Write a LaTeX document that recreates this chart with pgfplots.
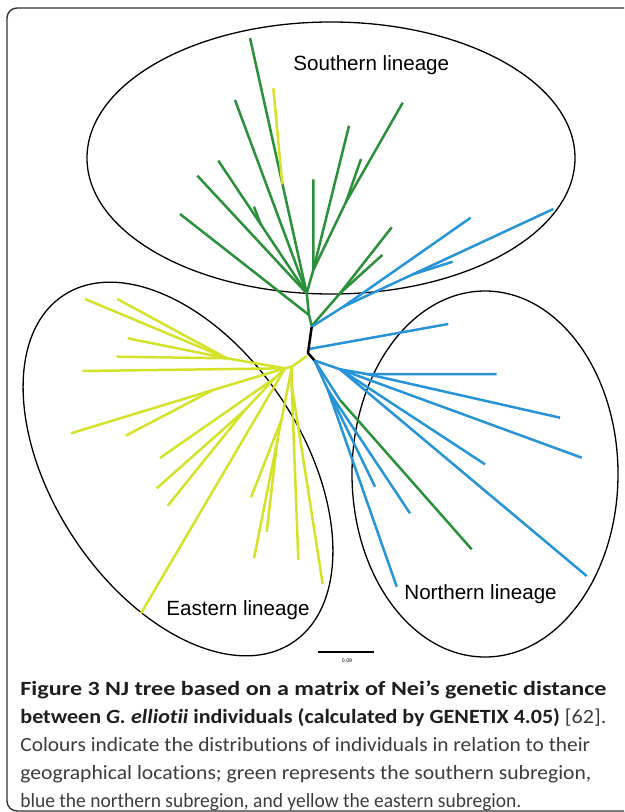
\documentclass[border=0pt]{standalone}
\usepackage{graphicx}
\usepackage{pgfplots}
\pgfplotsset{compat=1.18}
\usepackage{fontspec}
\setmainfont{Carlito}[Ligatures={NoCommon}]
\newfontfamily\arial{Liberation Sans}
\definecolor{sgreen}{RGB}{42,145,58}
\definecolor{nblue}{RGB}{38,148,214}
\definecolor{eyellow}{RGB}{212,226,42}
\definecolor{capbold}{RGB}{30,30,30}
\definecolor{captxt}{RGB}{60,60,60}
\definecolor{framec}{RGB}{50,50,50}
\newcommand{\fitline}[2]{\resizebox{#1}{\height}{#2}}
\begin{document}
\begin{tikzpicture}
\begin{axis}[
  x=0.5pt, y=0.5pt, xmin=0, xmax=624, ymin=0, ymax=812, y dir=reverse,
  hide axis, clip=false, scale only axis,
  every axis plot/.append style={no markers, line width=1.25pt, line join=round},
]
\addplot[draw=none] coordinates {(0,0) (624,812)};
% frame
\draw[line width=0.7pt, framec, rounded corners=5pt] (axis cs:624,8) -- (axis cs:7,8) -- (axis cs:7,811) -- (axis cs:624,811);
% ellipses
\draw[line width=0.65pt] (axis cs:331,158) ellipse [x radius=122pt, y radius=68pt];
\draw[line width=0.65pt, rotate around={-56.6:(axis cs:178,469)}] (axis cs:178,469) ellipse [x radius=104pt, y radius=62.5pt];
\draw[line width=0.65pt] (axis cs:485,474) ellipse [x radius=66.5pt, y radius=91.5pt];

% southern (green)
\addplot[sgreen] coordinates {(311.7,326) (309,315) (306.7,293.3) (250,38)};
\addplot[sgreen] coordinates {(309,315) (180,214)};
\addplot[sgreen] coordinates {(306.7,293.3) (235,100)};
\addplot[sgreen] coordinates {(306.7,293.3) (218.3,160.7)};
\addplot[sgreen] coordinates {(261,225) (254,206.7)};
\addplot[sgreen] coordinates {(306.7,293.3) (197.3,175.7)};
\addplot[sgreen] coordinates {(306.7,293.3) (313.3,270) (313.3,179.3)};
\addplot[sgreen] coordinates {(313.3,270) (349,125.7)};
\addplot[sgreen] coordinates {(313.3,270) (346,202) (402.7,102.7)};
\addplot[sgreen] coordinates {(346,202) (361,159)};
\addplot[sgreen] coordinates {(311.7,326) (340,293.3) (391.7,227.3)};
\addplot[sgreen] coordinates {(340,293.3) (382.3,255)};
\addplot[eyellow] coordinates {(282.3,184.3) (273.3,88.3)};

% blue upper
\addplot[nblue] coordinates {(311.7,326.7) (343.3,306.7) (470.7,217.7)};
\addplot[nblue] coordinates {(343.3,306.7) (553.3,209)};
\addplot[nblue] coordinates {(413,274.3) (452.7,261.7)};
\addplot[nblue] coordinates {(309,349) (448.3,324)};

% black internal
\addplot[black] coordinates {(311.7,326.7) (308,353) (314.5,360.5)};

% eastern (yellow)
\addplot[eyellow] coordinates {(307,356) (291.7,366.7) (285,368.3)};
\addplot[eyellow] coordinates {(285,368.3) (226.7,358.3) (85,299)};
\addplot[eyellow] coordinates {(226.7,358.3) (117.3,299)};
\addplot[eyellow] coordinates {(226.7,358.3) (127.7,338.3)};
\addplot[eyellow] coordinates {(226.7,358.3) (116.7,356.7)};
\addplot[eyellow] coordinates {(285,368.3) (82.3,371)};
\addplot[eyellow] coordinates {(285,368.3) (213,390) (71,433.3)};
\addplot[eyellow] coordinates {(213,390) (125.7,435.7)};
\addplot[eyellow] coordinates {(285,368.3) (275,378) (160,458)};
\addplot[eyellow] coordinates {(275,378) (245,410) (156.7,488.3)};
\addplot[eyellow] coordinates {(245,410) (167.7,505.7)};
\addplot[eyellow] coordinates {(285,368.3) (141,613.3)};
\addplot[eyellow] coordinates {(291.7,368) (254,558.3)};
\addplot[eyellow] coordinates {(281.4,420) (251,497.3)};
\addplot[eyellow] coordinates {(277.4,440) (266.7,531.7)};
\addplot[eyellow] coordinates {(291.7,368) (291.7,385) (298.3,560)};
\addplot[eyellow] coordinates {(291.7,385) (322.7,584)};

% northern (blue)
\addplot[nblue] coordinates {(314.5,360.5) (340,369.3) (366.7,374) (496.7,374)};
\addplot[nblue] coordinates {(366.7,374) (560,417.7)};
\addplot[nblue] coordinates {(340,369.3) (581.7,457.7)};
\addplot[nblue] coordinates {(340,369.3) (485,464.3)};
\addplot[nblue] coordinates {(340,369.3) (586.7,576)};
\addplot[nblue] coordinates {(314.5,360.5) (328,390) (396.7,586.7)};
\addplot[nblue] coordinates {(328,390) (375,486.7)};
\addplot[nblue] coordinates {(328,390) (410,513.3)};
\addplot[nblue] coordinates {(314.5,360.5) (340,400)};
\addplot[sgreen] coordinates {(340,400) (471.7,549.3)};

% scale bar
\addplot[black, line width=1pt] coordinates {(318,652) (374,652)};
\node[font=\arial\fontsize{2.6}{3}\selectfont] at (axis cs:347,661) {0.09};

% lineage labels
\node[anchor=base west, inner sep=0pt, font=\arial\fontsize{10.3}{12}\selectfont] at (axis cs:293,71) {Southern lineage};
\node[anchor=base west, inner sep=0pt, font=\arial\fontsize{10.3}{12}\selectfont] at (axis cs:166,615) {Eastern lineage};
\node[anchor=base west, inner sep=0pt, font=\arial\fontsize{10.3}{12}\selectfont] at (axis cs:404,599) {Northern lineage};

% caption
\node[anchor=base west, inner sep=0pt, font=\fontsize{10.1}{12}\selectfont\bfseries, text=capbold] at (axis cs:20,695) {\fitline{293pt}{Figure 3 NJ tree based on a matrix of Nei’s genetic distance}};
\node[anchor=base west, inner sep=0pt, font=\fontsize{10.1}{12}\selectfont\bfseries, text=capbold] at (axis cs:20,723) {\fitline{293pt}{between \textit{G. elliotii} individuals (calculated by GENETIX 4.05) {\mdseries\color{captxt}[62].}}};
\node[anchor=base west, inner sep=0pt, font=\fontsize{10.1}{12}\selectfont, text=captxt] at (axis cs:20,751) {\fitline{285pt}{Colours indicate the distributions of individuals in relation to their}};
\node[anchor=base west, inner sep=0pt, font=\fontsize{10.1}{12}\selectfont, text=captxt] at (axis cs:20,779) {\fitline{285.5pt}{geographical locations; green represents the southern subregion,}};
\node[anchor=base west, inner sep=0pt, font=\fontsize{10.1}{12}\selectfont, text=captxt] at (axis cs:20,807) {\fitline{250.5pt}{blue the northern subregion, and yellow the eastern subregion.}};
\end{axis}
\end{tikzpicture}
\end{document}
